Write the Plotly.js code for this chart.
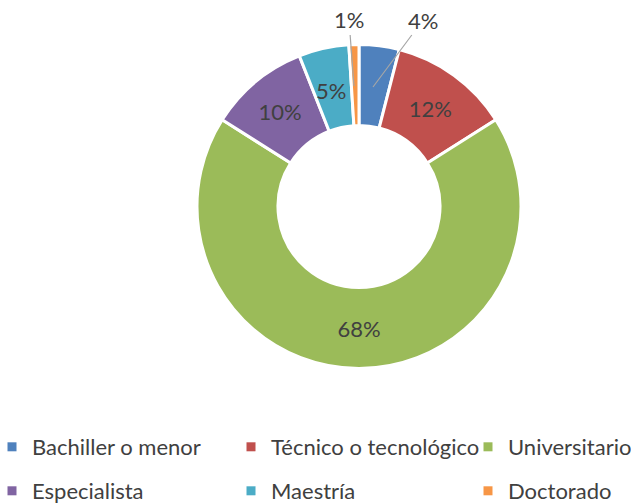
<!DOCTYPE html>
<html>
<head>
<meta charset="utf-8">
<script src="https://cdn.plot.ly/plotly-3.0.1.min.js"></script>
<style>html,body{margin:0;padding:0;background:#fff;}#chart{width:631px;height:504px;}</style>
</head>
<body>
<div id="chart"></div>
<script>
const categories = ["Bachiller o menor", "Técnico o tecnológico", "Universitario", "Especialista", "Maestría", "Doctorado"];
const values = [4, 12, 68, 10, 5, 1];
const colors = ["#4F81BD", "#C0504D", "#9BBB59", "#8064A2", "#4BACC6", "#F79646"];
const insideShown = [false, true, true, true, false, false];

const FONT = "Lato, 'Open Sans', sans-serif";
const TXT = "#404040";

const traces = [{
  type: "pie",
  labels: categories,
  values: values,
  hole: 0.5,
  sort: false,
  direction: "clockwise",
  rotation: 0,
  marker: {colors: colors, line: {color: "#ffffff", width: 3}},
  texttemplate: insideShown.map(s => s ? "%{percent:.0%}" : ""),
  textposition: "inside",
  insidetextorientation: "horizontal",
  textfont: {family: FONT, size: 22, color: TXT},
  showlegend: false,
  hoverinfo: "label+percent",
  domain: {x: [197/631, 521/631], y: [135/504, 460/504]}
}];

const legendNames = ["legend", "legend2", "legend3", "legend4", "legend5", "legend6"];
categories.forEach((c, i) => {
  traces.push({
    type: "scatter", mode: "markers", x: [null], y: [null],
    name: c,
    marker: {symbol: "square", size: 9, color: colors[i]},
    legend: legendNames[i],
    hoverinfo: "skip"
  });
});

const colX = [-8, 231, 468];
const rowY = [504 - 447, 504 - 491];
const layout = {
  width: 631, height: 504,
  margin: {l: 0, r: 0, t: 0, b: 0, autoexpand: false},
  paper_bgcolor: "#ffffff", plot_bgcolor: "#ffffff",
  showlegend: true,
  xaxis: {visible: false}, yaxis: {visible: false}
};
legendNames.forEach((ln, i) => {
  layout[ln] = {
    orientation: "h", xanchor: "left", yanchor: "middle",
    x: colX[i % 3] / 631, y: rowY[Math.floor(i / 3)] / 504,
    font: {family: FONT, size: 22, color: TXT},
    bgcolor: "rgba(0,0,0,0)", itemclick: false, itemdoubleclick: false
  };
});

const total = values.reduce((a, b) => a + b, 0);
const pct = i => Math.round(values[i] / total * 100) + "%";
// label placements for the thin slices (Bachiller, Doctorado with leader lines; Maestría overflowing its slice)
const labelSpots = [
  {idx: 0, x: 373, y: 87, ax: 50, ay: -67, arrow: true},
  {idx: 5, x: 354, y: 86, ax: -5, ay: -66, arrow: true},
  {idx: 4, x: 331, y: 90, arrow: false}
];
layout.annotations = labelSpots.map(p => ({
  xref: "paper", yref: "paper", x: p.x / 631, y: (504 - p.y) / 504,
  ax: p.ax, ay: p.ay, xanchor: "center", yanchor: "middle",
  text: pct(p.idx),
  showarrow: p.arrow, arrowhead: 0, arrowwidth: 1.2, arrowcolor: "#a6a6a6",
  font: {family: FONT, size: 22, color: TXT}
}));

Plotly.newPlot("chart", traces, layout, {displayModeBar: false, staticPlot: true});
</script>
</body>
</html>
